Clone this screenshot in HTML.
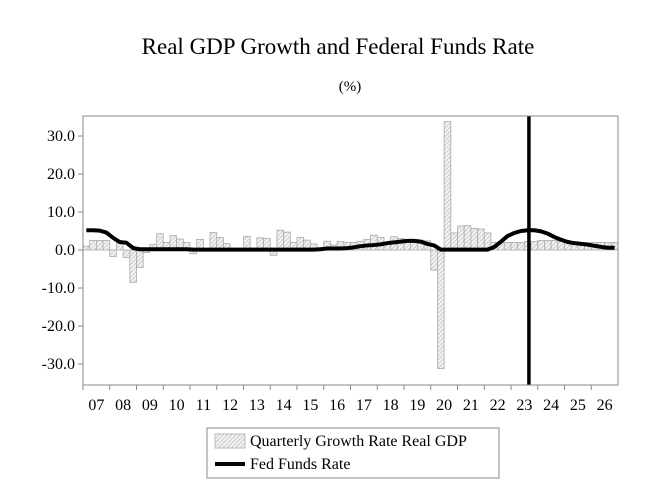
<!DOCTYPE html>
<html><head><meta charset="utf-8"><style>
body{margin:0;background:#fff;width:660px;height:490px;overflow:hidden;font-family:"Liberation Serif",serif}
</style></head><body>
<svg width="660" height="490" id="c" font-family="Liberation Serif, serif">
<defs><pattern id="h" width="3" height="3" patternUnits="userSpaceOnUse" patternTransform="rotate(45)"><rect width="3" height="3" fill="#f2f2f2"/><line x1="0" y1="0" x2="0" y2="3" stroke="#aaa" stroke-width="1"/></pattern></defs>
<text x="338" y="54" font-size="23" text-anchor="middle">Real GDP Growth and Federal Funds Rate</text>
<text x="350" y="91" font-size="15" text-anchor="middle">(%)</text>
<g id="plot"></g>
<rect x="83" y="116" width="535" height="269" fill="none" stroke="#888" stroke-width="1"/>
<g>
<rect x="207" y="428" width="292" height="50" fill="#fff" stroke="#888"/>
<rect x="215" y="434" width="30" height="14" fill="url(#h)" stroke="#bbb"/>
<text x="250" y="446" font-size="16">Quarterly Growth Rate Real GDP</text>
<line x1="215" y1="464" x2="245" y2="464" stroke="#000" stroke-width="4"/>
<text x="250" y="469" font-size="16">Fed Funds Rate</text>
</g>
</svg>
<script>
const years=["07","08","09","10","11","12","13","14","15","16","17","18","19","20","21","22","23","24","25","26"];
const yTicks=[30,20,10,0,-10,-20,-30];
const gdp=[1.0,2.5,2.5,2.5, -1.7,2.0,-2.0,-8.5, -4.6,-0.7,1.5,4.3, 2.0,3.8,2.9,2.0, -1.0,2.8,-0.1,4.6, 3.3,1.7,0.5,0.4, 3.6,0.5,3.2,3.0, -1.4,5.2,4.7,2.0, 3.3,2.6,1.6,0.6, 2.3,1.3,2.2,2.0, 2.0,2.3,2.8,3.9, 3.3,2.1,3.5,3.0, 2.2,2.8,2.6,2.4, -5.3,-31.2,33.8,4.5, 6.3,6.4,5.7,5.5, 4.5,2.0,2.0,2.0, 2.0,2.0,2.2,2.2, 2.5,2.5,2.5,2.2, 2.2,2.0,2.0,2.0, 2.0,2.0,2.0,2.0];
const fed=[5.2,5.2,5.1,4.6, 3.2,2.1,1.9,0.5, 0.2,0.2,0.2,0.2, 0.2,0.2,0.2,0.2, 0.1,0.1,0.1,0.1, 0.1,0.1,0.1,0.1, 0.1,0.1,0.1,0.1, 0.1,0.1,0.1,0.1, 0.1,0.1,0.1,0.2, 0.4,0.4,0.4,0.5, 0.7,1.0,1.2,1.3, 1.5,1.8,2.0,2.2, 2.4,2.4,2.2,1.6, 1.2,0.1,0.1,0.1, 0.1,0.1,0.1,0.1, 0.1,0.8,2.2,3.7, 4.5,5.0,5.2,5.2, 4.9,4.3,3.4,2.7, 2.1,1.8,1.6,1.4, 1.1,0.8,0.6,0.6];
const markerYear=2023.67;
const X0=83,X1=618,T=116,B=385;
const yS=v=>250-v*3.8;
const qw=(X1-X0)/80;
const xS=t=>X0+(t-2007)*qw*4;
const g=document.getElementById('plot');
const NS="http://www.w3.org/2000/svg";
function mk(tag,at){const e=document.createElementNS(NS,tag);for(const k in at)e.setAttribute(k,at[k]);g.appendChild(e);return e;}
yTicks.forEach(v=>{
 const l=mk('line',{x1:X0-5,x2:X0,y1:yS(v),y2:yS(v),stroke:'#888'});
 
 
 const t=mk('text',{x:X0-8,y:yS(v)+5,'font-size':16,'text-anchor':'end'});
 t.textContent=v.toFixed(1);
 
 
});
years.forEach((y,i)=>{
 const l=mk('line',{x1:xS(2007+i),x2:xS(2007+i),y1:B,y2:B+5,stroke:'#888'});
 
 
 const t=mk('text',{x:xS(2007.5+i),y:B+25,'font-size':16,'text-anchor':'middle'});
 t.textContent=y;
 
 
});
gdp.forEach((v,i)=>{
 const x=xS(2007+i/4);
 const r=mk('rect',{x:x,width:qw,y:Math.min(yS(v),yS(0)),height:Math.abs(yS(v)-yS(0)),fill:'url(#h)',stroke:'#aaa','stroke-width':0.8});
 
 
});
const pts=fed.map((v,i)=>xS(2007+i/4+0.125)+','+yS(v)).join(' ');
const pl=mk('polyline',{points:pts,fill:'none',stroke:'#000','stroke-width':4,'stroke-linejoin':'round'});


const vl=mk('line',{x1:xS(markerYear),x2:xS(markerYear),y1:T,y2:B,stroke:'#000','stroke-width':3.5});


</script>
</body></html>
